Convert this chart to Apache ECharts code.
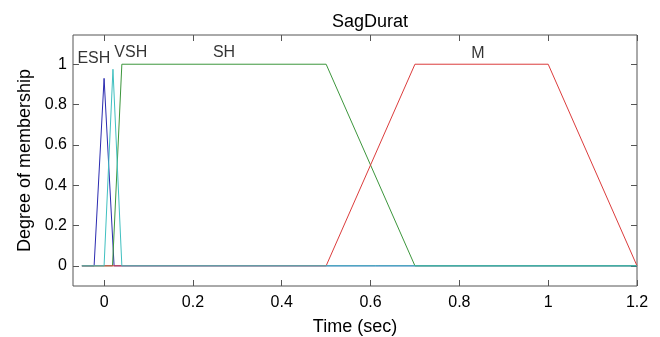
<!DOCTYPE html>
<html>
<head>
<meta charset="utf-8">
<script src="https://cdn.jsdelivr.net/npm/echarts@6/dist/echarts.min.js"></script>
<style>
  html, body { margin: 0; padding: 0; background: #fff; }
  #chart { width: 660px; height: 337px; }
</style>
</head>
<body>
<div id="chart"></div>
<script>
// membership functions, points (x in sec, y degree)
const eshX = [-0.05, -0.0225, 0, 0.0225, 1.2];
const eshY = [0, 0, 0.93, 0, 0];
const shX = [-0.05, 0.019, 0.04, 0.5, 0.7, 1.2];
const shY = [0, 0, 1, 1, 0, 0];
const mX = [-0.05, 0.5, 0.7, 1.0, 1.2];
const mY = [0, 0, 1, 1, 0];
const vshX = [-0.05, 0, 0.02, 0.04, 1.2];
const vshY = [0, 0, 0.975, 0, 0];

// text labels over each function
const mfNames = ["ESH", "VSH", "SH", "M"];
const labelX = [-0.023, 0.06, 0.27, 0.842];
const labelY = [1.026, 1.06, 1.06, 1.055];

const xTicks = [0, 0.2, 0.4, 0.6, 0.8, 1, 1.2];
const yTicks = [0, 0.2, 0.4, 0.6, 0.8, 1];

const FONT = "Liberation Sans";
const BOX = "#555";

function pts(xs, ys) {
  return xs.map((x, i) => [x, ys[i]]);
}

function line(name, xs, ys, color) {
  return {
    name: name,
    type: "line",
    data: pts(xs, ys),
    symbol: "none",
    lineStyle: { width: 1, color: color },
    itemStyle: { color: color },
  };
}

function axisX(pos, labels) {
  return {
    type: "value",
    position: pos,
    min: -0.07,
    max: 1.2,
    axisLine: { show: false, onZero: false },
    splitLine: { show: false },
    axisTick: {
      show: true,
      inside: true,
      length: 6,
      customValues: xTicks,
      lineStyle: { color: BOX },
    },
    axisLabel: {
      show: labels,
      customValues: xTicks,
      margin: 9,
      color: "#000",
      fontFamily: FONT,
      fontSize: 16,
      formatter: (v) => String(v),
    },
  };
}

function axisY(pos, labels) {
  return {
    type: "value",
    position: pos,
    min: -0.1,
    max: 1.145,
    axisLine: { show: false, onZero: false },
    splitLine: { show: false },
    axisTick: {
      show: true,
      inside: true,
      length: 6,
      customValues: yTicks,
      lineStyle: { color: BOX },
    },
    axisLabel: {
      show: labels,
      customValues: yTicks,
      margin: 6,
      color: "#000",
      fontFamily: FONT,
      fontSize: 16,
      formatter: (v) => String(v),
    },
  };
}

const chart = echarts.init(document.getElementById("chart"), null, { renderer: "canvas" });

const xMain = axisX("bottom", true);
xMain.name = "Time (sec)";
xMain.nameLocation = "middle";
xMain.nameGap = 32;
xMain.nameTextStyle = { color: "#000", fontFamily: FONT, fontSize: 18 };

const yMain = axisY("left", true);
yMain.name = "Degree of membership";
yMain.nameLocation = "middle";
yMain.nameGap = 37;
yMain.nameTextStyle = { color: "#000", fontFamily: FONT, fontSize: 18 };

const option = {
  animation: false,
  backgroundColor: "#fff",
  title: {
    text: "SagDurat",
    left: 327,
    top: 8,
    textStyle: { color: "#000", fontFamily: FONT, fontSize: 18, fontWeight: "normal" },
  },
  grid: {
    left: 73,
    right: 23,
    top: 35,
    bottom: 51,
    containLabel: false,
    outerBoundsMode: "none",
    show: true,
    borderColor: BOX,
    borderWidth: 1,
    backgroundColor: "#fff",
  },
  xAxis: [xMain, axisX("top", false)],
  yAxis: [yMain, axisY("right", false)],
  series: [
    line("ESH", eshX, eshY, "#2b2bb0"),
    line("SH", shX, shY, "#3c963c"),
    line("M", mX, mY, "#dc3c3c"),
    line("VSH", vshX, vshY, "#40c0c0"),
    {
      name: "labels",
      type: "scatter",
      symbolSize: 0,
      silent: true,
      data: mfNames.map((n, i) => [labelX[i], labelY[i], n]),
      label: {
        show: true,
        position: "inside",
        color: "#000",
        fontFamily: FONT,
        fontSize: 16,
        formatter: (p) => p.data[2],
      },
    },
  ],
};

chart.setOption(option);
</script>
</body>
</html>
